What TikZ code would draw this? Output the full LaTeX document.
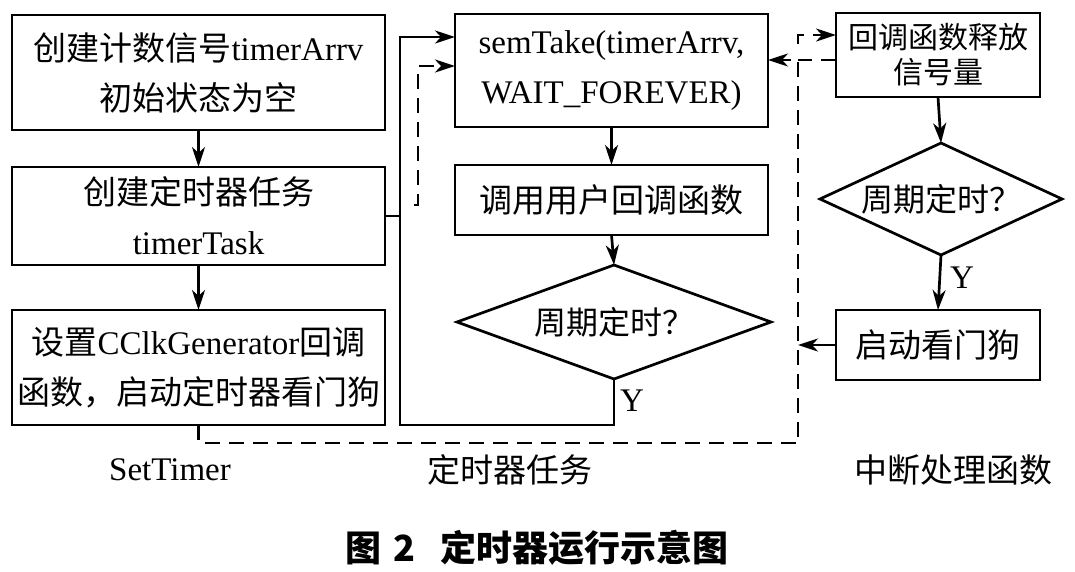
\documentclass[tikz,border=0pt]{standalone}
\usepackage{fontspec}
\setmainfont{Liberation Serif}
\newfontfamily\cjk{Noto Sans CJK SC}
\usetikzlibrary{shapes.geometric,arrows.meta,calc}
\newcommand\zh[1]{{\cjk #1}}
\begin{document}
\begin{tikzpicture}[x=1pt,y=-1pt,
  every node/.style={inner sep=0pt, outer sep=0pt},
  box/.style={draw, line width=2.7pt, rectangle, align=center, font=\fontsize{33}{50}\selectfont},
  dia/.style={draw, line width=2.7pt, diamond, aspect=2.75, font=\fontsize{32}{40}\selectfont},
  tip/.style={-{Stealth[length=20pt,width=13pt,inset=6pt]}},
  conn/.style={line width=2.7pt, tip},
  sline/.style={line width=2.7pt},
  dsh/.style={line width=2.7pt, dash pattern=on 15pt off 9pt},
  lbl/.style={font=\fontsize{33}{40}\selectfont}
]
\useasboundingbox (0,0) rectangle (1075,571);
\fill[white] (0,0) rectangle (1075,571);

% SetTimer column
\node[box, minimum width=373pt, minimum height=115pt] (b1) at (198.5,72.5) {\zh{创建计数信号}timerArrv\\\zh{初始状态为空}};
\node[box, minimum width=373pt, minimum height=98pt] (b2) at (198.5,216) {\zh{创建定时器任务}\\timerTask};
\node[box, minimum width=373pt, minimum height=115pt] (b3) at (198.5,367.5) {\zh{设置}CClkGenerator\zh{回调}\\\zh{函数，启动定时器看门狗}};

% timer task column
\node[box, minimum width=313pt, minimum height=113pt] (st) at (611.5,70.5) {semTake(timerArrv,\\WAIT\_FOREVER)};
\node[box, minimum width=313pt, minimum height=70pt] (call) at (611.5,200) {\zh{调用用户回调函数}};
\node[dia, minimum width=314pt, minimum height=114pt] (dL) at (614,322) {\zh{周期定时？}};

% interrupt column
\node[box, minimum width=204pt, minimum height=84pt, font=\fontsize{30}{35}\selectfont] (cb) at (938,55) {\zh{回调函数释放}\\\zh{信号量}};
\node[dia, minimum width=218pt, minimum height=112pt] (dR) at (941,199) {\zh{周期定时？}};
\node[box, minimum width=204pt, minimum height=70pt] (wd) at (938,345) {\zh{启动看门狗}};

% helper coordinates
\coordinate (jL) at (400,425);
\coordinate (ds) at (414,205);
\coordinate (T) at (798,60);
\coordinate (B) at (798,443);
\coordinate (tc) at (798,44);

% solid connectors
\draw[conn] (b1.south) -- (b2.north);
\draw[conn] (b2.south) -- (b3.north);
\draw[conn] (st.south) -- (call.north);
\draw[conn] (call.south) -- (dL.north);
\draw[conn] (cb.south) -- (dR.north);
\draw[conn] (dR.south) -- (wd.north);
\draw[conn] (dL.south) |- (jL) |- ([yshift=-23pt]st.north west);
\draw[sline] (b2.east) -- (b2.east -| jL);
\draw[conn] (wd.west) -- (wd.west -| T);

% dashed connectors
\draw[dsh, tip] (ds) -- ++(4,0) |- ([yshift=-52pt]st.north west);
\draw[dsh, tip] (b3.south) |- (B) -- (T) -- (st.east |- T);
\draw[dsh] (cb.west |- T) -- (T);
\draw[dsh, tip] (tc) |- ([yshift=-22pt]cb.north west);

% labels
\node[lbl] (yL) at (632,401) {Y};
\node[lbl] (yR) at (962,278) {Y};
\node[lbl] (l1) at (170,470) {SetTimer};
\node[lbl] (l2) at (510,470) {\zh{定时器任务}};
\node[lbl] (l3) at (953,470) {\zh{中断处理函数}};
\node[font=\fontsize{36}{40}\selectfont\cjk\bfseries] (cap) at (537,548) {图\hspace{12pt}2\hspace{26pt}定时器运行示意图};
\end{tikzpicture}
\end{document}
